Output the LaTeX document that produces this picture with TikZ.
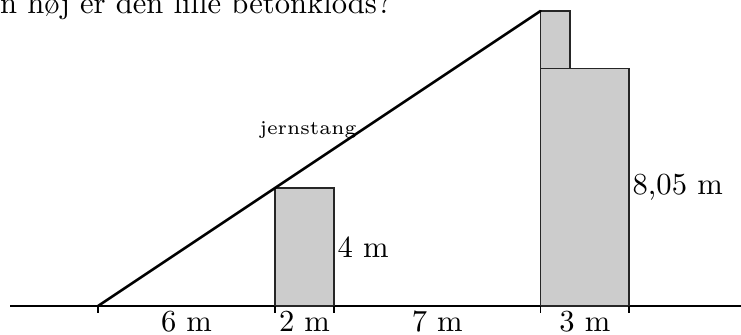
\documentclass[tikz,border=0pt]{standalone}
\begin{document}
\begin{tikzpicture}[x=9.64pt,y=9.64pt,
  block/.style={draw=black!85,fill=black!20,line width=0.4pt},
  rod/.style={line width=0.85pt,line cap=round},
  tick/.style={line width=0.4pt},
  lbl/.style={inner sep=1pt,anchor=west},
  dim/.style={anchor=base,inner sep=0pt},
  small/.style={font=\fontsize{6.4}{8}\selectfont}]
\useasboundingbox (-3.322,-0.949) rectangle (21.797,10.373);
% question text (partly cut off)
\node[anchor=base east,inner sep=0pt] (q) at (9.97,9.93) {n høj er den lille betonklods?};
% ground
\coordinate (gl) at (-2.98,0);
\coordinate (gr) at (21.9,0);
\draw[line width=0.4pt] (gl) -- (gr);
% blocks
\draw[block] (6,0) rectangle (8,4);
\draw[block] (15,0) rectangle (18,8.05);
\draw[block] (15,8.05) rectangle (16,10);
% ticks
\foreach \t in {0,6,8,15,18} \draw[tick] (\t,0) -- (\t,-0.25);
% rod
\coordinate (foot) at (0,0);
\coordinate (top) at (15,10);
\draw[rod] (foot) -- (top);
\node[small,anchor=base,inner sep=0pt] (js) at (7.12,5.80) {jernstang};
% labels
\node[lbl] (h4) at (8,2) {4 m};
\node[lbl] (h805) at (18,4.03) {8,05 m};
\node[dim] (d6) at (3,-0.88) {6 m};
\node[dim] (d2) at (7,-0.88) {2 m};
\node[dim] (d7) at (11.5,-0.88) {7 m};
\node[dim] (d3) at (16.5,-0.88) {3 m};
\end{tikzpicture}
\end{document}
